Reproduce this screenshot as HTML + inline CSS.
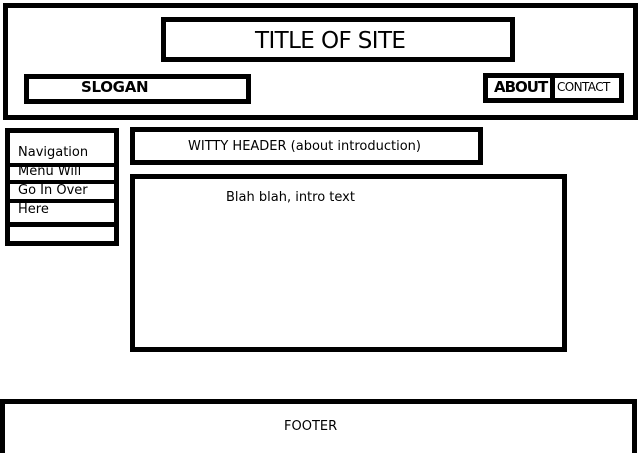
<!DOCTYPE html>
<html><head><style>
html,body{margin:0;padding:0;background:#fff;width:639px;height:453px;overflow:hidden;position:relative;font-family:"DejaVu Sans","Liberation Sans",sans-serif;color:#000}
.b{position:absolute;box-sizing:border-box;border:5px solid #000;background:#fff}
.t{position:absolute;white-space:nowrap;line-height:1}
</style></head><body>
<div class="b" style="left:3px;top:3px;width:635px;height:117px"></div>
<div class="b" style="left:161px;top:17px;width:354px;height:45px"></div>
<div class="t" style="left:255px;top:30px;font-size:23px;letter-spacing:-0.6px">TITLE OF SITE</div>
<div class="b" style="left:24px;top:74px;width:227px;height:30px"></div>
<div class="t" style="left:81px;top:80px;font-size:15px;font-weight:bold;letter-spacing:-0.3px">SLOGAN</div>
<div class="b" style="left:483px;top:73px;width:141px;height:30px"></div>
<div style="position:absolute;left:550px;top:73px;width:5px;height:30px;background:#000"></div>
<div class="t" style="left:494px;top:80px;font-size:15px;font-weight:bold;letter-spacing:-1px">ABOUT</div>
<div class="t" style="left:557px;top:81px;font-size:12px;letter-spacing:-0.6px">CONTACT</div>

<div class="b" style="left:5px;top:128px;width:114px;height:118px"></div>
<div style="position:absolute;left:5px;top:163px;width:114px;height:4px;background:#000"></div>
<div style="position:absolute;left:5px;top:180px;width:114px;height:4px;background:#000"></div>
<div style="position:absolute;left:5px;top:199px;width:114px;height:4px;background:#000"></div>
<div style="position:absolute;left:5px;top:222px;width:114px;height:5px;background:#000"></div>
<div class="t" style="left:18px;top:146px;font-size:13px">Navigation</div>
<div class="t" style="left:18px;top:165px;font-size:13px">Menu Will</div>
<div class="t" style="left:18px;top:184px;font-size:13px">Go In Over</div>
<div class="t" style="left:18px;top:203px;font-size:13px">Here</div>

<div class="b" style="left:130px;top:127px;width:353px;height:38px"></div>
<div class="t" style="left:188px;top:140px;font-size:13px">WITTY HEADER (about introduction)</div>
<div class="b" style="left:130px;top:174px;width:437px;height:178px"></div>
<div class="t" style="left:226px;top:191px;font-size:13px">Blah blah, intro text</div>

<div class="b" style="left:0px;top:399px;width:637px;height:70px"></div>
<div class="t" style="left:284px;top:420px;font-size:13px">FOOTER</div>
</body></html>
